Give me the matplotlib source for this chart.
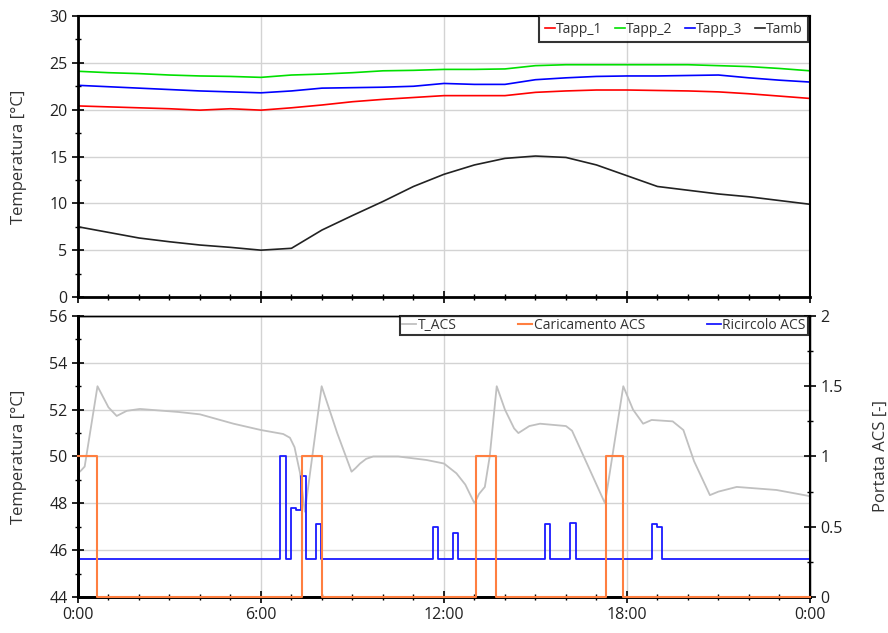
import matplotlib.pyplot as plt
import matplotlib.ticker as mticker

plt.rcParams['font.family'] = ['Open Sans', 'DejaVu Sans']

# hourly room / ambient temperatures
ore = list(range(25))
tapp_1 = [20.4, 20.3, 20.2, 20.1, 19.95, 20.1, 19.95, 20.2, 20.5, 20.85, 21.1, 21.3, 21.5,
          21.5, 21.5, 21.85, 22.0, 22.1, 22.1, 22.05, 22.0, 21.9, 21.7, 21.45, 21.2]
tapp_2 = [24.1, 23.95, 23.85, 23.7, 23.6, 23.55, 23.45, 23.7, 23.8, 23.95, 24.15, 24.2, 24.3,
          24.3, 24.35, 24.7, 24.8, 24.8, 24.8, 24.8, 24.8, 24.7, 24.6, 24.4, 24.15]
tapp_3 = [22.6, 22.45, 22.3, 22.15, 22.0, 21.9, 21.8, 22.0, 22.3, 22.35, 22.4, 22.5, 22.8,
          22.7, 22.7, 23.2, 23.4, 23.55, 23.6, 23.6, 23.65, 23.7, 23.4, 23.15, 22.95]
tamb = [7.5, 6.9, 6.3, 5.9, 5.55, 5.3, 5.0, 5.2, 7.15, 8.7, 10.2, 11.8, 13.1,
        14.1, 14.8, 15.05, 14.9, 14.1, 12.95, 11.8, 11.4, 11.0, 10.7, 10.3, 9.9]

# ACS tank temperature
t_acs_ore = [0.0, 0.1, 0.22, 0.64, 1.0, 1.27, 1.6, 2.03, 3.3, 4.0, 5.1, 6.0, 6.73, 6.95, 7.1,
             7.28, 7.44, 7.99, 8.5, 8.97, 9.1, 9.25, 9.45, 9.68, 10.5, 11.43, 12.0, 12.41,
             12.7, 13.0, 13.15, 13.34, 13.5, 13.73, 14.0, 14.3, 14.44, 14.8, 15.15, 16.0,
             16.2, 17.28, 17.88, 18.2, 18.53, 18.81, 19.5, 19.85, 20.2, 20.72, 21.0, 21.6,
             22.9, 23.9, 24.0]
t_acs = [49.28, 49.4, 49.57, 53.0, 52.1, 51.73, 51.95, 52.03, 51.9, 51.8, 51.4, 51.13, 50.96,
         50.8, 50.4, 49.3, 47.64, 53.0, 51.0, 49.35, 49.5, 49.7, 49.9, 50.0, 50.0, 49.85,
         49.7, 49.28, 48.8, 48.0, 48.4, 48.7, 50.0, 53.0, 52.0, 51.2, 51.0, 51.3, 51.4,
         51.3, 51.1, 48.0, 53.0, 52.0, 51.4, 51.56, 51.5, 51.13, 49.8, 48.35, 48.5, 48.7,
         48.57, 48.33, 48.3]

# charging flag (step, value held from each time)
car_ore = [0.0, 0.64, 7.35, 7.99, 13.04, 13.72, 17.3, 17.88, 24.0]
car_val = [1, 0, 1, 0, 1, 0, 1, 0, 0]

# recirculation flow (step, value held from each time)
ric_ore = [0.0, 6.64, 6.82, 6.98, 7.15, 7.31, 7.48, 7.8, 7.97, 11.63, 11.81, 12.3, 12.47,
           15.31, 15.48, 16.13, 16.32, 18.81, 18.97, 19.14, 24.0]
ric_val = [0.27, 1.0, 0.27, 0.636, 0.617, 0.863, 0.27, 0.52, 0.27, 0.5, 0.27, 0.457, 0.27,
           0.52, 0.27, 0.525, 0.27, 0.52, 0.496, 0.27, 0.27]

fig = plt.figure(figsize=(8.88, 6.33), dpi=100)
ax1 = fig.add_axes([0.0878, 0.5308, 0.8243, 0.4439])
ax2 = fig.add_axes([0.0878, 0.0569, 0.8243, 0.4439])

ax1.plot(ore, tapp_1, color='#ff0000', lw=1.2, label='Tapp_1')
ax1.plot(ore, tapp_2, color='#00e000', lw=1.2, label='Tapp_2')
ax1.plot(ore, tapp_3, color='#0000ff', lw=1.2, label='Tapp_3')
ax1.plot(ore, tamb, color='#222222', lw=1.2, label='Tamb')
ax1.set_ylim(0, 30)
ax1.yaxis.set_major_locator(mticker.MultipleLocator(5))
ax1.yaxis.set_minor_locator(mticker.MultipleLocator(2.5))
ax1.set_ylabel('Temperatura [°C]', fontsize=12, color='#333333', labelpad=16)
ax1.tick_params(labelbottom=False)
leg1 = ax1.legend(loc='upper right', ncol=4, fontsize=10, handlelength=0.7, handletextpad=0.1,
                  columnspacing=0.9, frameon=True, fancybox=False, borderaxespad=0.0,
                  bbox_to_anchor=(0.998, 1.0), labelcolor='#333333')
leg1.get_frame().set_edgecolor('black')
leg1.get_frame().set_linewidth(1.5)

ax2.plot(t_acs_ore, t_acs, color='#c0c0c0', lw=1.3, label='T_ACS')
ax2.set_ylim(44, 56)
ax2.yaxis.set_major_locator(mticker.MultipleLocator(2))
ax2.yaxis.set_minor_locator(mticker.MultipleLocator(1))
ax2.set_ylabel('Temperatura [°C]', fontsize=12, color='#333333', labelpad=16)

ax3 = ax2.twinx()
ax3.step(car_ore, car_val, where='post', color='#ff7f40', lw=1.5, label='Caricamento ACS',
         clip_on=False, zorder=5)
ax3.step(ric_ore, ric_val, where='post', color='#1a1aff', lw=1.3, label='Ricircolo ACS')
ax3.set_ylim(0, 2)
ax3.yaxis.set_major_locator(mticker.MultipleLocator(0.5))
ax3.yaxis.set_minor_locator(mticker.MultipleLocator(0.25))
ax3.yaxis.set_major_formatter(mticker.FuncFormatter(lambda v, p: f'{v:g}'))
ax3.set_ylabel('Portata ACS [-]', fontsize=12, color='#333333', labelpad=22)

h2, l2 = ax2.get_legend_handles_labels()
h3, l3 = ax3.get_legend_handles_labels()
leg2 = ax3.legend(h2 + h3, l2 + l3, loc='upper right', ncol=3, fontsize=10, mode='expand',
                  handlelength=1.0, handletextpad=0.1, frameon=True, fancybox=False,
                  borderaxespad=0.0, borderpad=0.15, bbox_to_anchor=(0.44, 0.93, 0.557, 0.07),
                  labelcolor='#333333')
leg2.get_frame().set_edgecolor('black')
leg2.get_frame().set_linewidth(1.5)

for ax in (ax1, ax2):
    ax.set_xlim(0, 24)
    ax.xaxis.set_major_locator(mticker.MultipleLocator(6))
    ax.xaxis.set_minor_locator(mticker.MultipleLocator(1))
    ax.grid(True, which='major', color='#d3d3d3', lw=1.0)
    ax.set_axisbelow(True)

ax2.set_xticks([0, 6, 12, 18, 24])
ax2.set_xticklabels(['0:00', '6:00', '12:00', '18:00', '0:00'])

for ax in (ax1, ax2, ax3):
    ax.tick_params(which='major', direction='inout', length=8, width=1.2, labelsize=11.5,
                   labelcolor='#222222')
    ax.tick_params(which='minor', direction='inout', length=5, width=1.0)
    for side in ('left', 'bottom', 'right', 'top'):
        ax.spines[side].set_linewidth(1.0)
    ax.spines['left'].set_linewidth(2)
    ax.spines['bottom'].set_linewidth(2)
ax1.spines['right'].set_linewidth(1.5)
ax1.spines['top'].set_linewidth(1.5)
ax3.spines['right'].set_linewidth(1.5)

fig.savefig('out.png', dpi=100)
